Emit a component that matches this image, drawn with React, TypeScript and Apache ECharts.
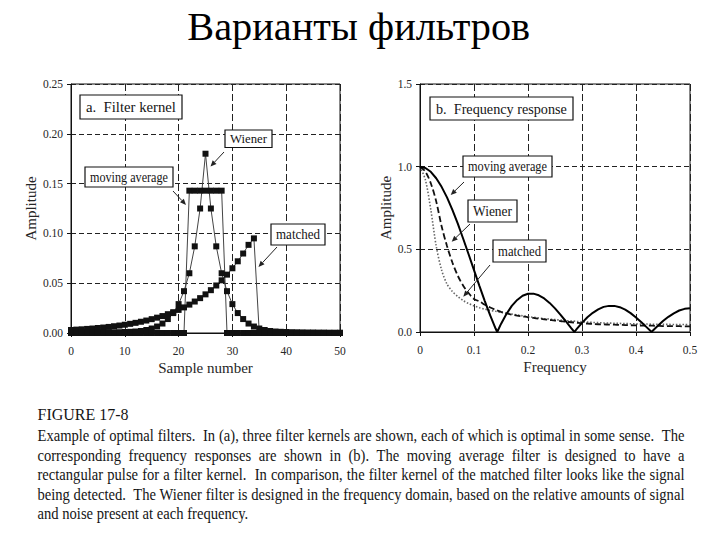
import React, { useEffect, useRef } from 'react';
import * as echarts from 'echarts';

// ---------- data ----------
const samples = Array.from({ length: 51 }, (_, i) => i);

const movingAverageKernel = [
  0, 0, 0, 0, 0, 0, 0, 0, 0, 0, 0, 0, 0, 0, 0, 0, 0, 0, 0, 0, 0, 0,
  0.1429, 0.1429, 0.1429, 0.1429, 0.1429, 0.1429, 0.1429,
  0, 0, 0, 0, 0, 0, 0, 0, 0, 0, 0, 0, 0, 0, 0, 0, 0, 0, 0, 0, 0, 0,
];

const wienerKernel = [
  0.0003, 0.0003, 0.0003, 0.0004, 0.0004, 0.0005, 0.0005, 0.0006, 0.0007, 0.0008,
  0.001, 0.0012, 0.0015, 0.002, 0.003, 0.0045, 0.0065, 0.0095, 0.014, 0.02,
  0.029, 0.042, 0.06, 0.087, 0.125, 0.18, 0.125, 0.087, 0.06, 0.042,
  0.029, 0.02, 0.014, 0.0095, 0.0065, 0.0045, 0.003, 0.002, 0.0015, 0.0012,
  0.001, 0.0008, 0.0007, 0.0006, 0.0005, 0.0005, 0.0004, 0.0004, 0.0003, 0.0003,
  0.0003,
];

const matchedKernel = [
  0.003, 0.0034, 0.0037, 0.0041, 0.0045, 0.005, 0.0055, 0.0061, 0.0068, 0.0075,
  0.0083, 0.0092, 0.0102, 0.0113, 0.0125, 0.0139, 0.0154, 0.017, 0.0189, 0.0209,
  0.0232, 0.0257, 0.0285, 0.0316, 0.035, 0.0388, 0.043, 0.0477, 0.0529, 0.0586,
  0.065, 0.072, 0.0798, 0.0885, 0.095,
  0, 0, 0, 0, 0, 0, 0, 0, 0, 0, 0, 0, 0, 0, 0, 0,
];

const freqAxis = [
  0, 0.01, 0.02, 0.03, 0.04, 0.05, 0.06, 0.07, 0.08, 0.09,
  0.1, 0.11, 0.12, 0.13, 0.14, 0.15, 0.16, 0.17, 0.18, 0.19,
  0.2, 0.21, 0.22, 0.23, 0.24, 0.25, 0.26, 0.27, 0.28, 0.29,
  0.3, 0.31, 0.32, 0.33, 0.34, 0.35, 0.36, 0.37, 0.38, 0.39,
  0.4, 0.41, 0.42, 0.43, 0.44, 0.45, 0.46, 0.47, 0.48, 0.49, 0.5,
];

const maFreq = [
  0, 0.01, 0.02, 0.03, 0.04, 0.05, 0.06, 0.07, 0.08, 0.09, 0.1, 0.11, 0.12, 0.13, 0.14,
  0.143,
  0.15, 0.16, 0.17, 0.18, 0.19, 0.2, 0.21, 0.22, 0.23, 0.24, 0.25, 0.26, 0.27, 0.28,
  0.286,
  0.29, 0.3, 0.31, 0.32, 0.33, 0.34, 0.35, 0.36, 0.37, 0.38, 0.39, 0.4, 0.41, 0.42,
  0.429,
  0.43, 0.44, 0.45, 0.46, 0.47, 0.48, 0.49, 0.5,
];

const maResponse = [
  1, 0.992, 0.969, 0.93, 0.878, 0.814, 0.739, 0.655, 0.564, 0.47, 0.374, 0.279, 0.187, 0.1, 0.021,
  0,
  0.049, 0.109, 0.158, 0.194, 0.219, 0.231, 0.232, 0.222, 0.203, 0.176, 0.143, 0.105, 0.065, 0.023,
  0,
  0.017, 0.055, 0.089, 0.116, 0.137, 0.152, 0.158, 0.158, 0.15, 0.135, 0.114, 0.088, 0.059, 0.028,
  0,
  0.005, 0.036, 0.066, 0.092, 0.113, 0.13, 0.14, 0.143,
];

const wienerResponse = [
  1.0, 0.97, 0.9, 0.79, 0.64, 0.52, 0.42, 0.34, 0.28, 0.235,
  0.2, 0.185, 0.165, 0.148, 0.134, 0.122, 0.112, 0.105, 0.099, 0.094,
  0.089, 0.085, 0.081, 0.077, 0.073, 0.069, 0.066, 0.062, 0.059, 0.056,
  0.053, 0.051, 0.049, 0.047, 0.046, 0.045, 0.044, 0.043, 0.042, 0.041,
  0.04, 0.039, 0.038, 0.038, 0.037, 0.036, 0.036, 0.035, 0.035, 0.034, 0.034,
];

const matchedResponse = [
  1.0, 0.92, 0.74, 0.52, 0.375, 0.29, 0.245, 0.215, 0.19, 0.172,
  0.158, 0.147, 0.138, 0.131, 0.125, 0.119, 0.114, 0.109, 0.103, 0.098,
  0.093, 0.089, 0.085, 0.081, 0.078, 0.075, 0.072, 0.069, 0.067, 0.064,
  0.062, 0.06, 0.058, 0.057, 0.055, 0.054, 0.053, 0.052, 0.051, 0.05,
  0.049, 0.048, 0.048, 0.047, 0.047, 0.046, 0.046, 0.045, 0.045, 0.045, 0.044,
];

const titleText = 'Варианты фильтров';
const figureLabel = 'FIGURE 17-8';
const captionLines = [
  'Example of optimal filters.  In (a), three filter kernels are shown, each of which is optimal in some sense.  The',
  'corresponding frequency responses are shown in (b). The moving average filter is designed to have a',
  'rectangular pulse for a filter kernel.  In comparison, the filter kernel of the matched filter looks like the signal',
  'being detected.  The Wiener filter is designed in the frequency domain, based on the relative amounts of signal',
  'and noise present at each frequency.',
];

// ---------- helpers ----------
const FONT = '"Liberation Serif", "Times New Roman", serif';
const INK = '#151515';

let ctx: CanvasRenderingContext2D | null = null;
function measure(text: string, font: string): number {
  if (!ctx) ctx = document.createElement('canvas').getContext('2d');
  if (!ctx) return text.length * 6;
  ctx.font = font;
  return ctx.measureText(text).width;
}

function textEl(text: string, x: number, y: number, size: number, opts: any = {}) {
  return {
    type: 'text',
    x,
    y,
    scaleX: opts.scaleX ?? 1,
    silent: true,
    z: 100,
    style: {
      text,
      font: `${size}px ${FONT}`,
      fill: opts.fill ?? INK,
      align: opts.align ?? 'left',
      verticalAlign: 'middle',
      textAlign: opts.align ?? 'left',
      textVerticalAlign: 'middle',
    },
  };
}

function boxEl(label: string, x: number, y: number, w: number, h: number, size: number, leftPad?: number) {
  const pad = leftPad !== undefined ? leftPad : 5;
  const avail = w - 2 * pad;
  const natural = measure(label, `${size}px ${FONT}`);
  const sx = Math.min(1, avail / (natural || avail));
  return {
    type: 'group',
    children: [
      {
        type: 'rect',
        shape: { x, y, width: w, height: h },
        style: { fill: '#fff', stroke: '#111', lineWidth: 1.2 },
        z: 90,
        silent: true,
      },
      leftPad !== undefined
        ? textEl(label, x + leftPad, y + h / 2, size, { scaleX: sx })
        : textEl(label, x + w / 2, y + h / 2, size, { align: 'center', scaleX: sx }),
    ],
  };
}

function arrowEl(x1: number, y1: number, x2: number, y2: number) {
  const dx = x2 - x1;
  const dy = y2 - y1;
  const len = Math.sqrt(dx * dx + dy * dy) || 1;
  const ux = dx / len;
  const uy = dy / len;
  const L = 6;
  const W = 2.6;
  const bx = x2 - ux * L;
  const by = y2 - uy * L;
  return {
    type: 'group',
    children: [
      {
        type: 'line',
        shape: { x1, y1, x2: bx, y2: by },
        style: { stroke: '#222', lineWidth: 1 },
        z: 95,
        silent: true,
      },
      {
        type: 'polygon',
        shape: {
          points: [
            [x2, y2],
            [bx - uy * W, by + ux * W],
            [bx + uy * W, by - ux * W],
          ],
        },
        style: { fill: '#222' },
        z: 95,
        silent: true,
      },
    ],
  };
}

function captionEls(): any[] {
  const size = 16;
  const font = `${size}px ${FONT}`;
  const left = 37.5;
  const target = 647;
  const ys = [435, 455, 474.5, 494, 513.5];
  const justified = [true, true, true, true, false];
  // condensation factor so that every justified line fits
  let s = 1;
  captionLines.forEach((ln, i) => {
    if (justified[i]) s = Math.min(s, target / measure(ln, font));
  });
  const els: any[] = [];
  const spaceW = measure(' ', font) * s;
  captionLines.forEach((ln, i) => {
    const parts = ln.split(/( +)/);
    const words: string[] = [];
    const gaps: number[] = [];
    parts.forEach((p, k) => {
      if (k % 2 === 0) words.push(p);
      else gaps.push(p.length);
    });
    const widths = words.map((w) => measure(w, font) * s);
    const sumW = widths.reduce((a, b) => a + b, 0);
    const sumG = gaps.reduce((a, b) => a + b, 0);
    const unit = justified[i] && sumG > 0 ? (target - sumW) / sumG : spaceW;
    let x = left;
    words.forEach((w, k) => {
      els.push(textEl(w, x, ys[i], size, { scaleX: s }));
      x += widths[k] + (k < gaps.length ? gaps[k] * unit : 0);
    });
  });
  const figSize = 17.5;
  els.push(textEl(figureLabel, left, 414, figSize, { scaleX: s }));
  return els;
}

function titleEl() {
  const size = 38;
  const w = measure(titleText, `${size}px ${FONT}`);
  const fs = size * (343 / (w || 343));
  return textEl(titleText, 358.7, 26, fs, { align: 'center', fill: '#000' });
}

// ---------- axes ----------
function axisCommon() {
  return {
    axisLine: { show: true, onZero: false, lineStyle: { color: '#111', width: 1 } },
    axisTick: { show: true, inside: false, length: 4, lineStyle: { color: '#111' } },
    axisLabel: { fontFamily: FONT, fontSize: 11.5, color: '#262626' },
    nameTextStyle: { fontFamily: FONT, fontSize: 15, color: '#262626' },
    nameLocation: 'middle' as const,
  };
}

export default function App() {
  const ref = useRef<HTMLDivElement>(null);

  useEffect(() => {
    document.body.style.margin = '0';
    if (!ref.current) return;
    const chart = echarts.init(ref.current, undefined, { renderer: 'svg' });

    const kernelSeries = (name: string, values: number[]) => ({
      name,
      type: 'line',
      xAxisIndex: 0,
      yAxisIndex: 0,
      data: samples.map((x, i) => [x, values[i]]),
      symbol: 'rect',
      symbolSize: 6,
      showSymbol: true,
      showAllSymbol: true,
      itemStyle: { color: '#111' },
      lineStyle: { color: '#444', width: 1 },
      silent: true,
    });

    const option: any = {
      animation: false,
      backgroundColor: '#fff',
      grid: [
        { left: 71, top: 84, width: 269, height: 249, show: true, borderColor: '#111', borderWidth: 1, backgroundColor: 'transparent' },
        { left: 420, top: 84, width: 270, height: 248, show: true, borderColor: '#111', borderWidth: 1, backgroundColor: 'transparent' },
      ],
      xAxis: [
        {
          ...axisCommon(),
          type: 'value',
          gridIndex: 0,
          min: 0,
          max: 50,
          interval: 10,
          name: 'Sample number',
          nameGap: 27,
          axisLabel: { ...axisCommon().axisLabel, margin: 12 },
          splitLine: { show: true, lineStyle: { color: '#222', width: 1, type: [7, 3] } },
        },
        {
          ...axisCommon(),
          type: 'value',
          gridIndex: 1,
          min: 0,
          max: 0.5,
          interval: 0.1,
          name: 'Frequency',
          nameGap: 27,
          axisLabel: {
            ...axisCommon().axisLabel,
            margin: 12,
            formatter: (v: number) => (v === 0 ? '0' : v.toFixed(1)),
          },
          splitLine: { show: true, lineStyle: { color: '#222', width: 1, type: [7, 3] } },
        },
      ],
      yAxis: [
        {
          ...axisCommon(),
          type: 'value',
          gridIndex: 0,
          min: 0,
          max: 0.25,
          interval: 0.05,
          name: 'Amplitude',
          nameGap: 27,
          axisLabel: { ...axisCommon().axisLabel, margin: 8, formatter: (v: number) => v.toFixed(2) },
          splitLine: { show: true, lineStyle: { color: '#222', width: 1, type: [5, 3] } },
        },
        {
          ...axisCommon(),
          type: 'value',
          gridIndex: 1,
          min: 0,
          max: 1.5,
          interval: 0.5,
          name: 'Amplitude',
          nameGap: 21,
          axisLabel: { ...axisCommon().axisLabel, margin: 8, formatter: (v: number) => v.toFixed(1) },
          splitLine: { show: true, lineStyle: { color: '#222', width: 1, type: [5, 3] } },
        },
      ],
      series: [
        kernelSeries('matched', matchedKernel),
        kernelSeries('Wiener', wienerKernel),
        kernelSeries('moving average', movingAverageKernel),
        {
          name: 'matched response',
          type: 'line',
          xAxisIndex: 1,
          yAxisIndex: 1,
          data: freqAxis.map((f, i) => [f, matchedResponse[i]]),
          showSymbol: false,
          smooth: 0.3,
          lineStyle: { color: '#666', width: 1.6, type: [1.5, 1.8] },
          silent: true,
        },
        {
          name: 'Wiener response',
          type: 'line',
          xAxisIndex: 1,
          yAxisIndex: 1,
          data: freqAxis.map((f, i) => [f, wienerResponse[i]]),
          showSymbol: false,
          smooth: 0.3,
          lineStyle: { color: '#111', width: 1.8, type: [6, 3] },
          silent: true,
        },
        {
          name: 'moving average response',
          type: 'line',
          xAxisIndex: 1,
          yAxisIndex: 1,
          data: maFreq.map((f, i) => [f, maResponse[i]]),
          showSymbol: false,
          lineStyle: { color: '#000', width: 2 },
          silent: true,
        },
      ],
      graphic: [
        titleEl(),
        // left chart annotations
        boxEl('a.\u00a0 Filter kernel', 80, 95, 102, 24, 15, 6),
        boxEl('Wiener', 225, 130, 47, 17.5, 13.5),
        arrowEl(224, 152, 210.5, 166.5),
        boxEl('moving average', 85, 167, 88, 20, 14),
        arrowEl(173, 191, 186, 205),
        boxEl('matched', 271, 224, 54, 21, 14),
        arrowEl(277, 247, 258.5, 267),
        // right chart annotations
        boxEl('b.\u00a0 Frequency response', 430, 97, 143, 23, 15, 6),
        boxEl('moving average', 463, 156, 89, 21, 14),
        arrowEl(464, 182, 450.7, 195),
        boxEl('Wiener', 468, 200, 49, 22, 14),
        arrowEl(470, 224, 451.7, 241.7),
        boxEl('matched', 493, 240, 53, 22, 14),
        arrowEl(490, 265, 463.3, 296.7),
        ...captionEls(),
      ],
    };

    chart.setOption(option);
    return () => chart.dispose();
  }, []);

  return <div ref={ref} style={{ width: 720, height: 540 }} />;
}
